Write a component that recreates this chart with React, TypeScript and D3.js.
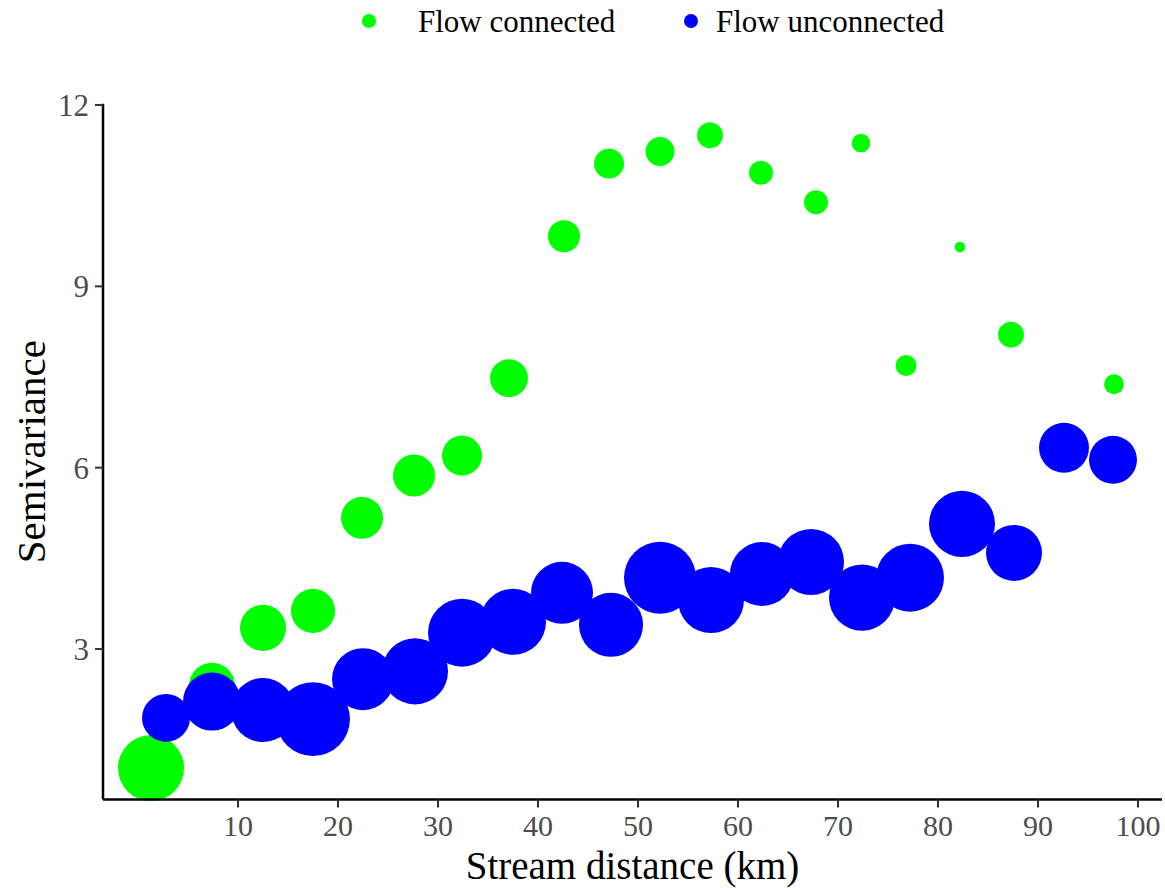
// @ts-nocheck
import React from 'react'
import * as d3 from 'd3'

// stream distance (km) of each lag bin
const connectedDist = [1.3, 7.4, 12.5, 17.5, 22.4, 27.6, 32.4, 37.1, 42.6, 47.1, 52.2, 57.2, 62.3, 67.8, 72.3, 76.8, 82.2, 87.3, 97.6]
const connectedGamma = [1.03, 2.39, 3.35, 3.63, 5.17, 5.87, 6.2, 7.48, 9.83, 11.03, 11.23, 11.5, 10.88, 10.39, 11.37, 7.69, 9.65, 8.2, 7.38]
const connectedPairs = [267, 130, 130, 119, 108, 108, 98, 88, 63, 55, 51, 41, 35, 35, 21, 27, 7, 41, 24]

const unconnectedDist = [2.8, 7.4, 12.5, 17.5, 22.5, 27.7, 32.4, 37.5, 42.4, 47.3, 52.2, 57.3, 62.4, 67.3, 72.4, 77.2, 82.4, 87.6, 92.6, 97.5]
const unconnectedGamma = [1.86, 2.13, 1.99, 1.84, 2.5, 2.63, 3.27, 3.45, 3.93, 3.4, 4.18, 3.81, 4.24, 4.44, 3.85, 4.18, 5.07, 4.59, 6.33, 6.13]
const unconnectedPairs = [141, 206, 251, 335, 235, 267, 283, 267, 235, 251, 317, 267, 251, 267, 267, 283, 267, 192, 153, 141]

const xTicks = [10, 20, 30, 40, 50, 60, 70, 80, 90, 100]
const yTicks = [3, 6, 9, 12]

const groups = [
  { name: 'Flow connected', color: '#00FF00', dist: connectedDist, gamma: connectedGamma, pairs: connectedPairs },
  { name: 'Flow unconnected', color: '#0000FF', dist: unconnectedDist, gamma: unconnectedGamma, pairs: unconnectedPairs },
]

const W = 1165
const H = 888
const font = '"Liberation Serif", "Times New Roman", serif'

const App = () => {
  const x = d3.scaleLinear().domain([-3.5, 102.4]).range([103, 1162])
  const y = d3.scaleLinear().domain([0.51, 12.02]).range([799.5, 103.8])
  const r = d3.scaleSqrt().domain([0, 300]).range([0, 35])

  const left = x.range()[0]
  const bottom = y.range()[0]

  return (
    <svg width={W} height={H} style={{ position: 'absolute', left: 0, top: 0, background: '#fff' }} fontFamily={font}>
      {groups.map((g) => (
        <g key={g.name}>
          {g.dist.map((d, i) => (
            <circle key={i} cx={x(d)} cy={y(g.gamma[i])} r={r(g.pairs[i])} fill={g.color} />
          ))}
        </g>
      ))}

      {/* axes */}
      <line x1={left} x2={left} y1={y.range()[1]} y2={bottom} stroke="#000" strokeWidth={2.5} />
      <line x1={left} x2={x.range()[1]} y1={bottom} y2={bottom} stroke="#000" strokeWidth={2.5} />
      {yTicks.map((t) => (
        <g key={t} transform={`translate(${left}, ${y(t)})`}>
          <line x1={-8} x2={0} stroke="#333" strokeWidth={2} />
          <text x={-14} dy="0.35em" textAnchor="end" fontSize={31} fill="#4D4D4D">
            {t}
          </text>
        </g>
      ))}
      {xTicks.map((t) => (
        <g key={t} transform={`translate(${x(t)}, ${bottom})`}>
          <line y1={0} y2={8} stroke="#333" strokeWidth={2} />
          <text y={36.5} textAnchor="middle" fontSize={30} fill="#4D4D4D">
            {t}
          </text>
        </g>
      ))}

      <text x={(x.range()[0] + x.range()[1]) / 2} y={879} textAnchor="middle" fontSize={39} fill="#000">
        Stream distance (km)
      </text>
      <text transform={`translate(45, ${(y.range()[0] + y.range()[1]) / 2}) rotate(-90)`} textAnchor="middle" fontSize={41} fill="#000">
        Semivariance
      </text>

      {/* legend */}
      <g>
        <circle cx={369} cy={21} r={7} fill={groups[0].color} />
        <text x={418} y={32} fontSize={31} fill="#000">
          {groups[0].name}
        </text>
        <circle cx={691} cy={21} r={7} fill={groups[1].color} />
        <text x={716} y={32} fontSize={31} fill="#000">
          {groups[1].name}
        </text>
      </g>
    </svg>
  )
}

export default App
